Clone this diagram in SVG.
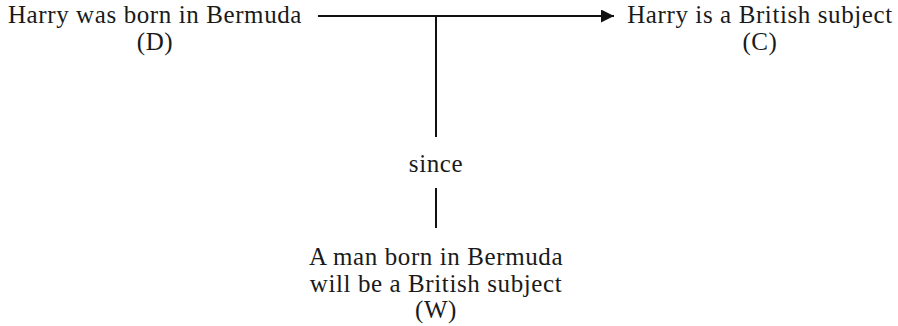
<svg xmlns="http://www.w3.org/2000/svg" width="898" height="326" viewBox="0 0 898 326">
<style>
text{font-family:"Liberation Serif","Times New Roman",serif;font-size:25px;fill:#1a1a1a;text-anchor:middle;letter-spacing:0.6px}
.ln{stroke:#111;stroke-width:2;fill:none}
</style>
<defs>
<marker id="ah" markerWidth="13" markerHeight="13" refX="13" refY="6.5" orient="auto" markerUnits="userSpaceOnUse">
<path d="M0,0 L13,6.5 L0,13 Z" fill="#111"/>
</marker>
</defs>
<rect width="898" height="326" fill="#fff"/>
<g id="connectors">
<line class="ln" x1="318" y1="16" x2="614" y2="16" marker-end="url(#ah)"/>
<line class="ln" x1="436" y1="16" x2="436" y2="137"/>
<line class="ln" x1="436" y1="188" x2="436" y2="228"/>
</g>
<g id="D">
<text x="155" y="23">Harry was born in Bermuda</text>
<text x="155" y="50">(D)</text>
</g>
<g id="C">
<text x="760" y="23">Harry is a British subject</text>
<text x="760" y="50">(C)</text>
</g>
<g id="since">
<text x="436" y="172">since</text>
</g>
<g id="W">
<text x="436" y="265">A man born in Bermuda</text>
<text x="436" y="292">will be a British subject</text>
<text x="436" y="318">(W)</text>
</g>
</svg>
